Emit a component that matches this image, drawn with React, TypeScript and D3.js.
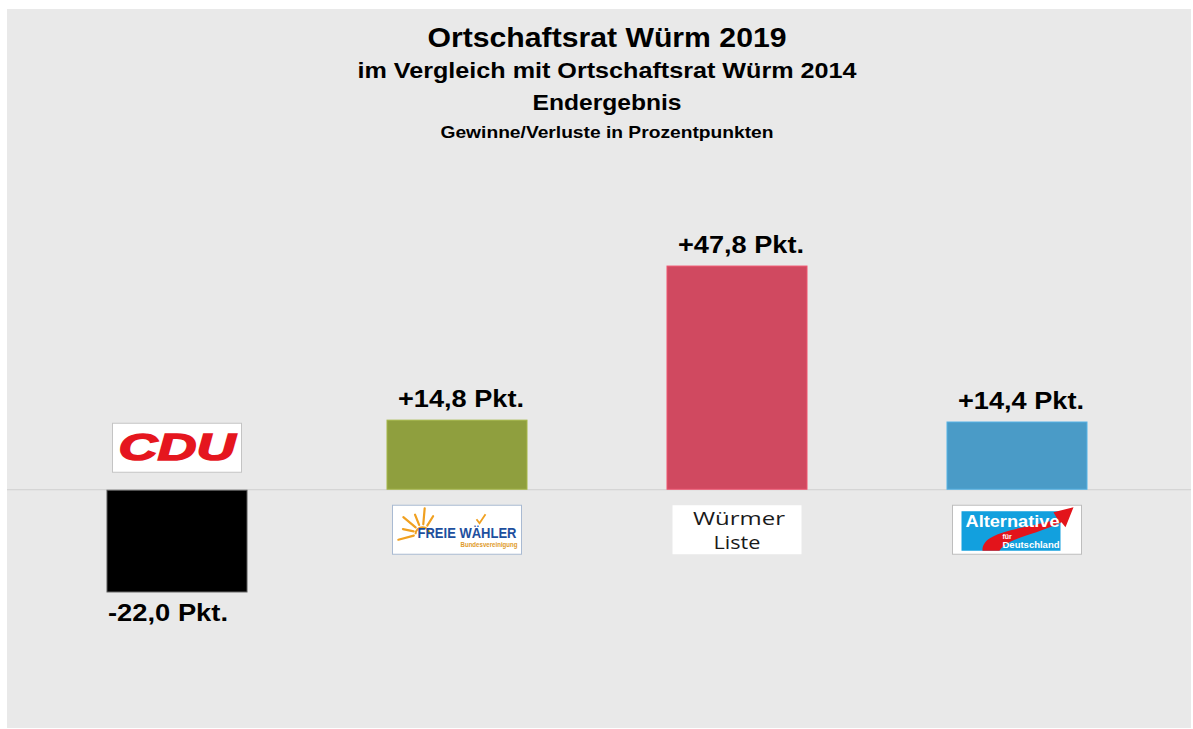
import React from "react";
import * as d3 from "d3";

const parties = ["CDU", "FREIE WÄHLER", "Würmer Liste", "AfD"];
const changes = [-22.0, 14.8, 47.8, 14.4];
const barColors = ["#000000", "#8f9f3e", "#d04960", "#4a9bc7"];
const titleLines = [
  "Ortschaftsrat Würm 2019",
  "im Vergleich mit Ortschaftsrat Würm 2014",
  "Endergebnis",
  "Gewinne/Verluste in Prozentpunkten",
];

const W = 1193;
const H = 729;
const FONT = "'Liberation Sans', Arial, Helvetica, sans-serif";

function fmt(v: number) {
  return (v > 0 ? "+" : "") + v.toFixed(1).replace(".", ",") + " Pkt.";
}

function CduLogo({ cx, y }: { cx: number; y: number }) {
  const x = cx - 64.5;
  return (
    <g>
      <rect x={x} y={y} width={129} height={49} fill="#fff" stroke="#c4c4c4" strokeWidth={1} />
      <text
        x={cx}
        y={y + 37}
        textAnchor="middle"
        fontFamily={FONT}
        fontWeight="bold"
        fontStyle="italic"
        fontSize={37}
        fill="#e5161e"
        stroke="#e5161e"
        strokeWidth={1.5}
        textLength={117}
        lengthAdjust="spacingAndGlyphs"
      >
        CDU
      </text>
    </g>
  );
}

function FwLogo({ cx, y }: { cx: number; y: number }) {
  const x = cx - 64.5;
  const sx = x + 30;
  const sy = y + 28;
  const angles = [195, 168, 140, 112, 85, 58];
  return (
    <g>
      <rect x={x} y={y} width={129} height={49} fill="#fff" stroke="#a9bad2" strokeWidth={1} />
      {angles.map((a, i) => {
        const r = (a * Math.PI) / 180;
        const r1 = 9;
        const r2 = i % 2 === 0 ? 25 : 20;
        return (
          <line
            key={i}
            x1={sx + r1 * Math.cos(r)}
            y1={sy - r1 * Math.sin(r)}
            x2={sx + r2 * Math.cos(r)}
            y2={sy - r2 * Math.sin(r)}
            stroke="#f0a020"
            strokeWidth={2.2}
            strokeLinecap="round"
          />
        );
      })}
      <path
        d={`M${sx - 7},${sy + 1} A7,7 0 0 1 ${sx + 7},${sy + 1}`}
        fill="none"
        stroke="#f0a020"
        strokeWidth={2}
      />
      <path d={`M${x + 84},${y + 14} l3,4 l6,-9`} fill="none" stroke="#f0a020" strokeWidth={1.8} />
      <text
        x={x + 25}
        y={y + 33}
        fontFamily={FONT}
        fontWeight="bold"
        fontSize={15}
        fill="#1d4f9e"
        textLength={99}
        lengthAdjust="spacingAndGlyphs"
      >
        FREIE WÄHLER
      </text>
      <text
        x={x + 68}
        y={y + 42}
        fontFamily={FONT}
        fontWeight="bold"
        fontSize={7}
        fill="#e09a2a"
        textLength={57}
        lengthAdjust="spacingAndGlyphs"
      >
        Bundesvereinigung
      </text>
    </g>
  );
}

function WlLogo({ cx, y }: { cx: number; y: number }) {
  const x = cx - 64.5;
  return (
    <g>
      <rect x={x} y={y} width={129} height={49} fill="#fff" />
      <text
        x={cx + 2}
        y={y + 20}
        textAnchor="middle"
        fontFamily="'Open Sans', 'Noto Sans', sans-serif"
        fontSize={18}
        fill="#1a1a1a"
        textLength={92}
        lengthAdjust="spacingAndGlyphs"
      >
        Würmer
      </text>
      <text
        x={cx}
        y={y + 44}
        textAnchor="middle"
        fontFamily="'Open Sans', 'Noto Sans', sans-serif"
        fontSize={18}
        fill="#1a1a1a"
        textLength={47}
        lengthAdjust="spacingAndGlyphs"
      >
        Liste
      </text>
    </g>
  );
}

function AfdLogo({ cx, y }: { cx: number; y: number }) {
  const x = cx - 64.5;
  const bx = x + 9;
  const by = y + 6;
  return (
    <g>
      <rect x={x} y={y} width={129} height={49} fill="#fff" stroke="#bdbdbd" strokeWidth={1} />
      <rect x={bx} y={by} width={99} height={39.5} fill="#12a0de" />
      <path
        d={`M${bx + 21},${by + 39.5}
            C${bx + 20},${by + 20} ${bx + 60},${by + 18} ${bx + 96},${by + 8}
            L${bx + 92},${by + 1}
            L${bx + 112},${by - 4}
            L${bx + 104},${by + 16}
            L${bx + 100},${by + 11}
            C${bx + 70},${by + 25} ${bx + 45},${by + 27} ${bx + 38},${by + 39.5} Z`}
        fill="#e3141b"
      />
      <text
        x={bx + 4}
        y={by + 16}
        fontFamily={FONT}
        fontWeight="bold"
        fontSize={16}
        fill="#fff"
        textLength={94}
        lengthAdjust="spacingAndGlyphs"
      >
        Alternative
      </text>
      <text x={bx + 41} y={by + 28} fontFamily={FONT} fontWeight="bold" fontSize={7} fill="#fff">
        für
      </text>
      <text
        x={bx + 41}
        y={by + 37}
        fontFamily={FONT}
        fontWeight="bold"
        fontSize={9.5}
        fill="#fff"
        textLength={57}
        lengthAdjust="spacingAndGlyphs"
      >
        Deutschland
      </text>
    </g>
  );
}

const logos = [CduLogo, FwLogo, WlLogo, AfdLogo];

const titleY = [47, 78, 110, 138];
const titleSize = [28, 21.5, 21.5, 16.5];
const titleLen = [359, 499, 149, 333];

export default function App() {
  const x = d3.scaleBand<string>().domain(parties).range([37, 1157]).paddingInner(0.5).paddingOuter(0.25);
  const y = d3.scaleLinear().domain([-40, 60]).range([676, 209.1]);
  const y0 = y(0);

  return (
    <svg
      width={W}
      height={H}
      style={{ position: "absolute", left: 0, top: 0, display: "block" }}
      xmlns="http://www.w3.org/2000/svg"
    >
      <rect x={0} y={0} width={W} height={H} fill="#ffffff" />
      <rect x={7} y={9} width={1184} height={719} fill="#e9e9e9" />

      {titleLines.map((t, i) => (
        <text
          key={i}
          x={607}
          y={titleY[i]}
          textAnchor="middle"
          fontFamily={FONT}
          fontWeight="bold"
          fontSize={titleSize[i]}
          textLength={titleLen[i]}
          lengthAdjust="spacingAndGlyphs"
          fill="#000"
        >
          {t}
        </text>
      ))}

      <line x1={7} x2={1191} y1={y0 + 0.5} y2={y0 + 0.5} stroke="#cfcfcf" strokeWidth={1} />

      {parties.map((p, i) => {
        const v = changes[i];
        const bx = x(p)!;
        const bw = x.bandwidth();
        const top = Math.min(y(v), y0);
        const h = Math.abs(y(v) - y0);
        const cx = bx + bw / 2;
        const Logo = logos[i];
        return (
          <g key={p}>
            <rect
              x={bx}
              y={v > 0 ? top : top + 1}
              width={bw}
              height={v > 0 ? h : h - 1}
              fill={barColors[i]}
              stroke={v > 0 ? d3.color(barColors[i])!.brighter(0.4).toString() : "#5a5a5a"}
              strokeWidth={1}
            />
            <text
              x={v > 0 ? cx + 4 : bx + 1}
              y={v > 0 ? top - 13 : y(v) + 29}
              textAnchor={v > 0 ? "middle" : "start"}
              fontFamily={FONT}
              fontWeight="bold"
              fontSize={23}
              textLength={v > 0 ? 126 : 120}
              lengthAdjust="spacingAndGlyphs"
              fill="#000"
            >
              {fmt(v)}
            </text>
            <Logo cx={cx} y={v > 0 ? y0 + 16 : y0 - 66} />
          </g>
        );
      })}
    </svg>
  );
}
